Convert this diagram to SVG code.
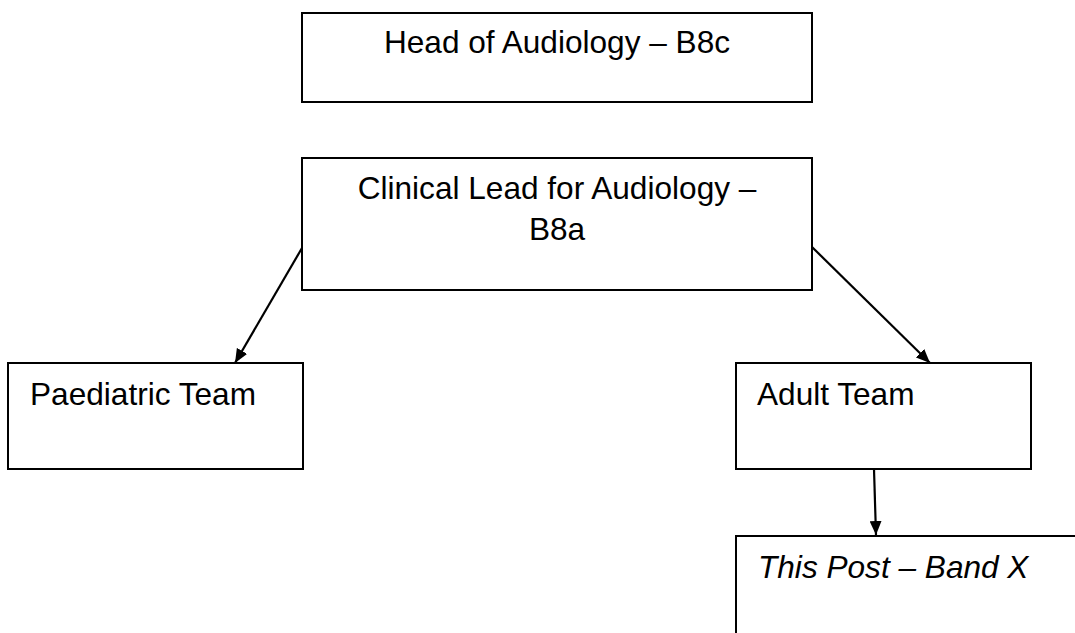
<svg xmlns="http://www.w3.org/2000/svg" width="1075" height="633" viewBox="0 0 1075 633">
<style>
.box{fill:#fff;stroke:#000;stroke-width:2}
.t{font-family:"Liberation Sans",Arial,sans-serif;font-size:31.6px;fill:#000}
.i{font-style:italic}
.c{stroke:#000;stroke-width:2.2;fill:none;marker-end:url(#ah)}
</style>
<defs>
<marker id="ah" viewBox="0 0 14 12" refX="14" refY="6" markerWidth="14" markerHeight="12" markerUnits="userSpaceOnUse" orient="auto">
<path d="M0,0 L14,6 L0,12 z" fill="#000"/>
</marker>
</defs>
<rect width="1075" height="633" fill="#fff"/>
<g id="head">
<rect class="box" x="302" y="13" width="510" height="89"/>
<text class="t" x="557" y="53" text-anchor="middle">Head of Audiology – B8c</text>
</g>
<g id="clinical">
<rect class="box" x="302" y="158" width="510" height="132"/>
<text class="t" x="557" y="199" text-anchor="middle">Clinical Lead for Audiology –</text>
<text class="t" x="557" y="240" text-anchor="middle">B8a</text>
</g>
<g id="paediatric">
<rect class="box" x="8" y="363" width="295" height="106"/>
<text class="t" x="30" y="405">Paediatric Team</text>
</g>
<g id="adult">
<rect class="box" x="736" y="363" width="295" height="106"/>
<text class="t" x="757" y="405">Adult Team</text>
</g>
<g id="thispost">
<rect class="box" x="736" y="536" width="400" height="150"/>
<text class="t i" x="758" y="578">This Post – Band X</text>
</g>
<g id="connectors">
<line class="c" x1="302" y1="248" x2="235" y2="363"/>
<line class="c" x1="812" y1="247" x2="930" y2="363"/>
<line class="c" x1="874" y1="469" x2="876" y2="535"/>
</g>
</svg>
